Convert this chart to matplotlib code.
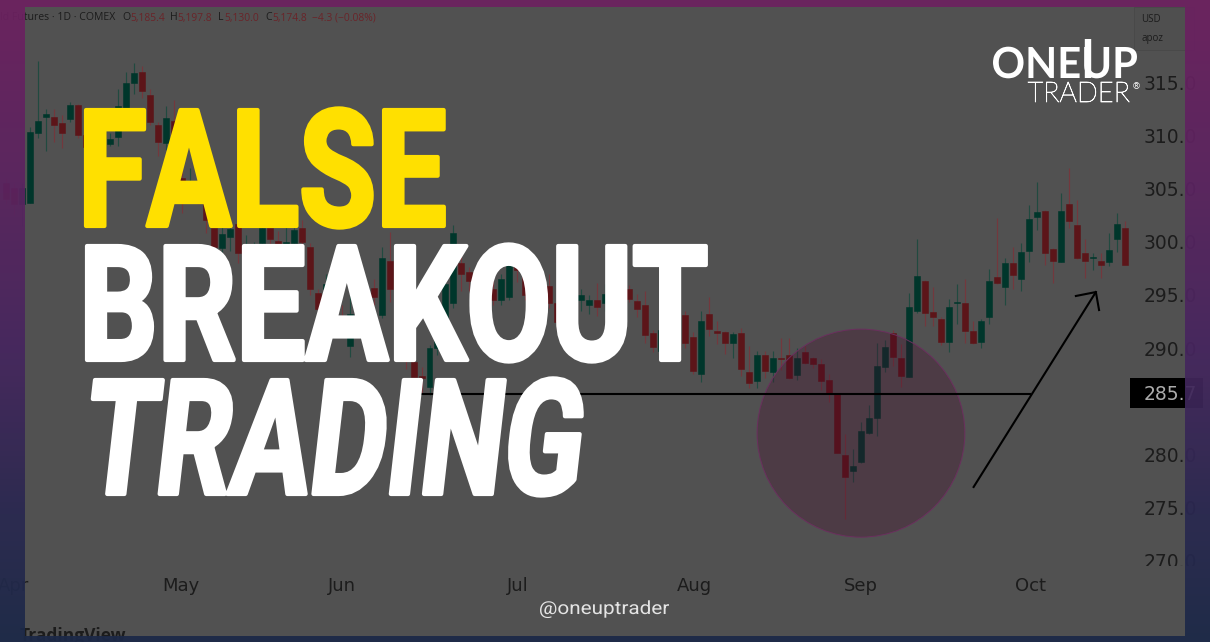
import numpy as np
import matplotlib
matplotlib.use("Agg")
import matplotlib.pyplot as plt
from matplotlib.font_manager import FontProperties
from matplotlib.patches import Ellipse, Rectangle
from matplotlib.patheffects import AbstractPathEffect
from matplotlib.textpath import TextPath
from matplotlib.transforms import Affine2D, Bbox

W, H = 1210, 642

# daily candles (the ones behind the big title are estimates)
first_day = -3
opens = [305.5, 305.0, 303.5,
         303.6, 310.2, 311.7, 311.7, 311.1, 311.5, 312.8, 310.0, 308.9, 309.3,
         309.2, 309.8, 312.6, 314.9, 315.9, 313.8, 311.0, 309.3, 311.3, 306.0,
         304.8, 305.5, 304.0, 301.3, 299.4, 300.4, 301.7, 298.9, 299.0, 299.9,
         301.3, 300.1, 299.8, 299.9, 301.3, 299.5, 295.2, 295.5, 295.8, 292.7,
         290.2, 292.8, 295.0, 295.6, 293.1, 298.2, 295.7, 293.5, 288.7, 287.4,
         286.3, 290.0, 291.5, 294.2, 298.0, 297.1, 296.5, 294.3, 295.5, 294.5,
         294.8, 297.8, 297.3, 295.0, 296.5, 295.8, 294.2, 292.5, 294.0, 294.5,
         294.0, 294.5, 294.2, 295.2, 295.0, 295.5, 294.4, 294.0, 291.4, 289.7,
         291.5, 291.0, 293.1, 291.0, 287.6, 293.2, 291.6, 291.5, 290.5, 291.4,
         287.7, 286.9, 289.3, 287.7, 289.1, 289.3, 287.5, 289.6, 289.1, 288.5,
         287.0, 285.7, 279.9, 278.4, 279.3, 282.0, 283.4, 288.2, 291.4, 289.1,
         287.3, 293.5, 296.3, 293.4, 292.7, 290.6, 294.2, 294.2, 291.6, 290.6,
         292.9, 296.7, 295.7, 298.0, 296.5, 299.1, 302.3, 302.9, 299.3, 298.1,
         303.5, 301.6, 298.9, 298.5, 298.2, 298.1, 300.2, 301.3]
highs = [306.0, 305.5, 305.5,
         310.8, 317.0, 312.5, 312.5, 311.9, 313.1, 312.9, 310.8, 309.8, 310.5,
         310.2, 314.3, 315.9, 316.8, 316.5, 314.3, 311.2, 312.7, 313.3, 307.5,
         306.9, 306.5, 305.0, 302.0, 301.5, 302.0, 302.5, 300.6, 300.0, 302.0,
         302.0, 301.0, 301.5, 301.4, 302.0, 299.9, 295.5, 297.0, 296.3, 294.0,
         295.0, 294.5, 296.0, 296.5, 299.5, 300.9, 297.0, 295.0, 289.3, 288.2,
         290.3, 293.5, 297.0, 301.6, 299.0, 297.6, 296.8, 296.0, 296.5, 297.0,
         299.0, 298.6, 298.0, 297.0, 297.5, 297.0, 294.6, 295.0, 295.5, 295.5,
         295.0, 296.1, 296.0, 296.0, 296.5, 295.9, 295.1, 295.4, 291.7, 292.0,
         292.5, 292.5, 293.5, 291.5, 293.5, 294.8, 292.5, 291.6, 291.5, 291.9,
         290.2, 289.7, 289.7, 289.7, 290.9, 290.9, 290.0, 290.2, 289.2, 289.0,
         287.6, 285.8, 281.9, 280.5, 283.0, 284.6, 290.5, 290.8, 291.7, 290.4,
         295.2, 300.2, 296.4, 295.7, 292.9, 294.6, 296.0, 296.5, 292.5, 292.7,
         297.4, 302.2, 298.5, 299.5, 299.9, 303.4, 305.6, 303.0, 299.4, 304.6,
         306.9, 303.9, 300.2, 298.9, 298.9, 300.8, 302.7, 301.9]
lows = [303.5, 302.5, 301.5,
        303.6, 309.7, 308.5, 309.4, 308.8, 311.2, 309.7, 308.1, 308.4, 308.8,
        309.0, 309.0, 312.6, 313.9, 313.5, 311.0, 308.0, 308.6, 308.0, 302.7,
        303.8, 303.5, 300.8, 299.0, 299.0, 299.1, 298.0, 298.6, 298.5, 298.0,
        299.5, 299.5, 299.3, 299.5, 299.6, 295.0, 291.0, 295.2, 294.0, 291.0,
        289.2, 291.5, 293.0, 294.0, 292.8, 294.3, 290.9, 288.0, 286.9, 285.8,
        285.6, 289.3, 291.0, 293.8, 295.4, 295.4, 293.4, 293.8, 294.0, 294.0,
        294.5, 296.2, 294.5, 294.0, 295.5, 293.8, 291.7, 292.0, 293.5, 293.5,
        293.2, 293.0, 293.5, 294.0, 294.5, 294.3, 292.9, 290.5, 289.6, 289.4,
        290.5, 290.5, 290.0, 287.6, 286.8, 291.1, 290.4, 289.4, 289.1, 287.4,
        286.2, 286.2, 287.2, 286.8, 287.9, 287.1, 287.0, 288.5, 288.1, 286.1,
        284.9, 280.1, 273.9, 277.4, 279.2, 281.9, 281.7, 287.7, 288.3, 286.3,
        287.3, 293.3, 292.1, 292.1, 290.3, 289.6, 292.3, 290.5, 290.4, 290.0,
        292.3, 296.0, 294.0, 295.5, 295.4, 298.1, 301.1, 297.8, 296.1, 298.1,
        301.3, 298.4, 296.6, 297.3, 296.6, 297.7, 299.0, 297.8]
closes = [304.0, 303.5, 305.0,
          310.3, 311.3, 312.0, 311.0, 310.2, 312.8, 310.0, 308.9, 309.5, 310.0,
          309.6, 312.7, 314.9, 315.8, 314.2, 311.2, 309.4, 311.6, 308.7, 304.7,
          305.5, 304.6, 302.0, 299.5, 300.7, 301.2, 298.9, 299.2, 299.6, 301.3,
          300.2, 299.8, 300.0, 301.1, 300.0, 295.5, 293.7, 296.0, 294.6, 292.2,
          293.2, 294.2, 294.0, 294.8, 298.5, 295.5, 295.1, 288.9, 287.3, 287.2,
          290.0, 291.7, 296.0, 300.8, 297.0, 296.3, 294.2, 295.5, 294.5, 296.5,
          297.8, 297.3, 295.0, 296.0, 295.8, 294.2, 292.4, 294.0, 295.0, 295.0,
          294.5, 293.9, 295.1, 294.5, 295.5, 294.6, 293.7, 291.2, 290.1, 291.7,
          291.0, 292.0, 290.5, 287.8, 292.5, 291.8, 291.4, 290.5, 291.3, 288.0,
          286.7, 289.3, 287.8, 289.1, 289.0, 287.2, 289.1, 288.6, 288.5, 286.9,
          285.8, 280.1, 277.9, 278.9, 282.2, 283.4, 288.3, 290.1, 289.2, 287.4,
          293.9, 296.8, 293.3, 292.9, 290.6, 293.9, 294.3, 291.6, 290.5, 292.5,
          296.3, 296.1, 298.0, 296.9, 299.0, 302.1, 302.8, 298.9, 298.2, 302.9,
          301.9, 298.5, 298.2, 298.6, 297.8, 299.2, 301.7, 297.8]

month_days = [-2.1, 18.9, 39, 61, 83.2, 104, 125.2]
month_labels = ["Apr", "May", "Jun", "Jul", "Aug", "Sep", "Oct"]
price_ticks = [270, 275, 280, 290, 295, 300, 305, 310, 315]
last_price = 285.7

level_days = [46.9, 125.2]
level_prices = [285.68, 285.68]
arrow_days = [118.1, 133.4]
arrow_prices = [276.94, 295.26]
head_days = [130.9, 133.4, 133.8]
head_prices = [294.89, 295.26, 293.57]
circle_day, circle_price = 104.0, 282.0
circle_w, circle_h = 26.0, 19.55

purple_stops = [0.0, 0.3, 0.55, 0.8, 1.0]
purple_r = [109, 90, 70, 42, 28]
purple_g = [33, 36, 38, 40, 42]
purple_b = [97, 96, 94, 80, 72]

PANEL = "#515151"
RED = "#5c1519"
GREEN = "#00362b"
RED_WICK = "#73383d"
GREEN_WICK = "#214a40"
INK = "#1c1c1c"


class Squeeze(AbstractPathEffect):
    # the title face is a narrow one, so the glyphs get narrowed when they are drawn
    def __init__(self, sx=1.0, slant=0.0, stroke=0.0):
        super().__init__()
        self.sx = sx
        self.slant = slant
        self.stroke = stroke

    def draw_path(self, renderer, gc, tpath, affine, rgbFace=None):
        gc0 = renderer.new_gc()
        gc0.copy_properties(gc)
        gc0.set_linewidth(self.stroke)
        gc0.set_joinstyle("round")
        if rgbFace is not None:
            gc0.set_foreground(rgbFace)
        a = Affine2D().scale(self.sx, 1).skew_deg(self.slant, 0) + affine
        renderer.draw_path(gc0, tpath, a, rgbFace)
        gc0.restore()


plt.rcParams["font.family"] = ["DejaVu Sans"]
fig = plt.figure(figsize=(W / 100, H / 100), dpi=100)
ax = fig.add_axes([0, 0, 1, 1], zorder=1)
ax.set_facecolor(PANEL)
# pixels, y going down
px = Affine2D().scale(1, -1).translate(0, H)


def fit_text(s, x0, x1, base, cap, color, family="Roboto", weight="bold", slant=0.0, stroke=0.0, z=10):
    fp = FontProperties(family=family, weight=weight)
    ratio = TextPath((0, 0), "H", size=100, prop=fp).get_extents().height / 100
    size_px = cap / ratio
    ext = TextPath((0, 0), s, size=size_px, prop=fp).get_extents()
    spread = cap * np.tan(np.radians(slant))
    sx = (x1 - x0 - spread - stroke * 100 / 72) / ext.width
    ax.text(x0 - ext.x0 * sx, base, s, transform=px, color=color, fontproperties=fp,
            fontsize=size_px * 0.72, ha="left", va="baseline", zorder=z,
            path_effects=[Squeeze(sx, slant, stroke)])


days = np.arange(len(opens)) + first_day
opens = np.array(opens)
closes = np.array(closes)
up = closes >= opens
ax.vlines(days, lows, highs, colors=[GREEN_WICK if u else RED_WICK for u in up], linewidth=0.85, zorder=2)
ax.bar(days, np.abs(closes - opens), bottom=np.minimum(opens, closes), width=0.75,
       color=[GREEN if u else RED for u in up], edgecolor=[GREEN if u else RED for u in up],
       linewidth=0.4, zorder=3)

ax.add_patch(Ellipse((circle_day, circle_price), circle_w, circle_h, facecolor=(0.27, 0.04, 0.17, 0.3),
                     edgecolor="#6b2f5e", linewidth=0.7, zorder=4))
ax.plot(level_days, level_prices, color="black", linewidth=1.5, zorder=5)
ax.plot(arrow_days, arrow_prices, color="black", linewidth=1.5, zorder=5)
ax.plot(head_days, head_prices, color="black", linewidth=1.5, zorder=5)

ax.set_xlim(-30 / 7.99, (W - 30) / 7.99)
ax.set_ylim(315 - (H - 82) * 0.09398, 315 + 82 * 0.09398)
ax.yaxis.tick_right()
ax.set_xticks(month_days, month_labels)
ax.set_yticks(price_ticks, [f"{p:.1f}" for p in price_ticks])
ax.tick_params(axis="x", length=0, pad=-47, labelsize=13, labelcolor=INK)
ax.tick_params(axis="y", length=0, pad=-48, labelsize=13.5, labelcolor=INK)
for spine in ax.spines.values():
    spine.set_visible(False)
for lbl in ax.get_yticklabels():
    if lbl.get_text() == "270.0":
        lbl.set_clip_box(Bbox.from_extents(0, H - 566, W, H))
        lbl.set_clip_on(True)

# price tag and the currency box on the right
ax.add_patch(Rectangle((1130, 378), 73, 30, transform=px, facecolor="black", edgecolor="none", zorder=6))
ax.text(1143.5, 394, f"{last_price:.1f}", transform=px, color="#ababab", fontsize=13.5, va="center", zorder=7)
ax.add_patch(Rectangle((1134, 7), 60, 43, transform=px, facecolor="#4f4f4f", edgecolor="#484848",
                       linewidth=0.6, zorder=6))
ax.text(1141, 19, "USD", transform=px, color=INK, fontsize=7, family="Open Sans", va="center", zorder=7)
ax.text(1141, 39, "apoz", transform=px, color=INK, fontsize=7, family="Open Sans", va="center", zorder=7)

# header line
ax.text(115, 18, "Gold Futures · 1D · COMEX", transform=px, color=INK, fontsize=7.6, family="Open Sans",
        ha="right", va="center", zorder=7)
for x, s in [(122, "O"), (170, "H"), (218, "L"), (265, "C")]:
    ax.text(x, 18, s, transform=px, color=INK, fontsize=7.6, family="Open Sans", va="center", zorder=7)
for x, s in [(130, "5,185.4"), (177, "5,197.8"), (224, "5,130.0"), (272, "5,174.8"), (312, "−4.3 (−0.08%)")]:
    ax.text(x, 18, s, transform=px, color="#6a2429", fontsize=7.4, family="Open Sans", va="center", zorder=7)
ax.text(20, 641, "TradingView", transform=px, color=INK, fontsize=12.5, family="Open Sans",
        fontweight="bold", zorder=7)

# big title
fit_text("FALSE", 86, 448, 226, 116, "#ffe000", weight="bold", stroke=3)
fit_text("BREAKOUT", 87, 710, 360, 114, "white", weight="bold", stroke=3)
fit_text("TRADING", 82, 590, 494, 114, "white", weight="bold", slant=6.5, stroke=3)

# logo
fit_text("ONEUP", 993, 1137, 78, 31, "white", family="Lato", weight="bold")
ax.plot([132.45, 132.45], [315.4, 319.0], color="white", linewidth=4.6, solid_capstyle="butt", zorder=10)
fit_text("TRADER", 1028, 1130, 102, 20, "white", family="Lato", weight="light", stroke=0.5)
ax.text(1132, 89, "®", transform=px, color="white", fontsize=6.5, zorder=10)

fit_text("@oneuptrader", 540, 669, 614, 13, "#e4e4e4", family="Roboto", weight="normal", z=12)

# the purple frame sits on top and lets a little of the chart through
over = fig.add_axes([0, 0, 1, 1], zorder=5)
rows = (np.arange(H) + 0.5) / H
rgba = np.zeros((H, W, 4))
rgba[:, :, 0] = np.interp(rows, purple_stops, purple_r)[:, None] / 255
rgba[:, :, 1] = np.interp(rows, purple_stops, purple_g)[:, None] / 255
rgba[:, :, 2] = np.interp(rows, purple_stops, purple_b)[:, None] / 255
rgba[:, :, 3] = 0.93
rgba[7:636, 25:1185, 3] = 0
over.imshow(rgba, aspect="auto", interpolation="nearest", extent=(0, W, H, 0))
over.axis("off")
over.patch.set_alpha(0)

fig.savefig("out.png", dpi=100)
